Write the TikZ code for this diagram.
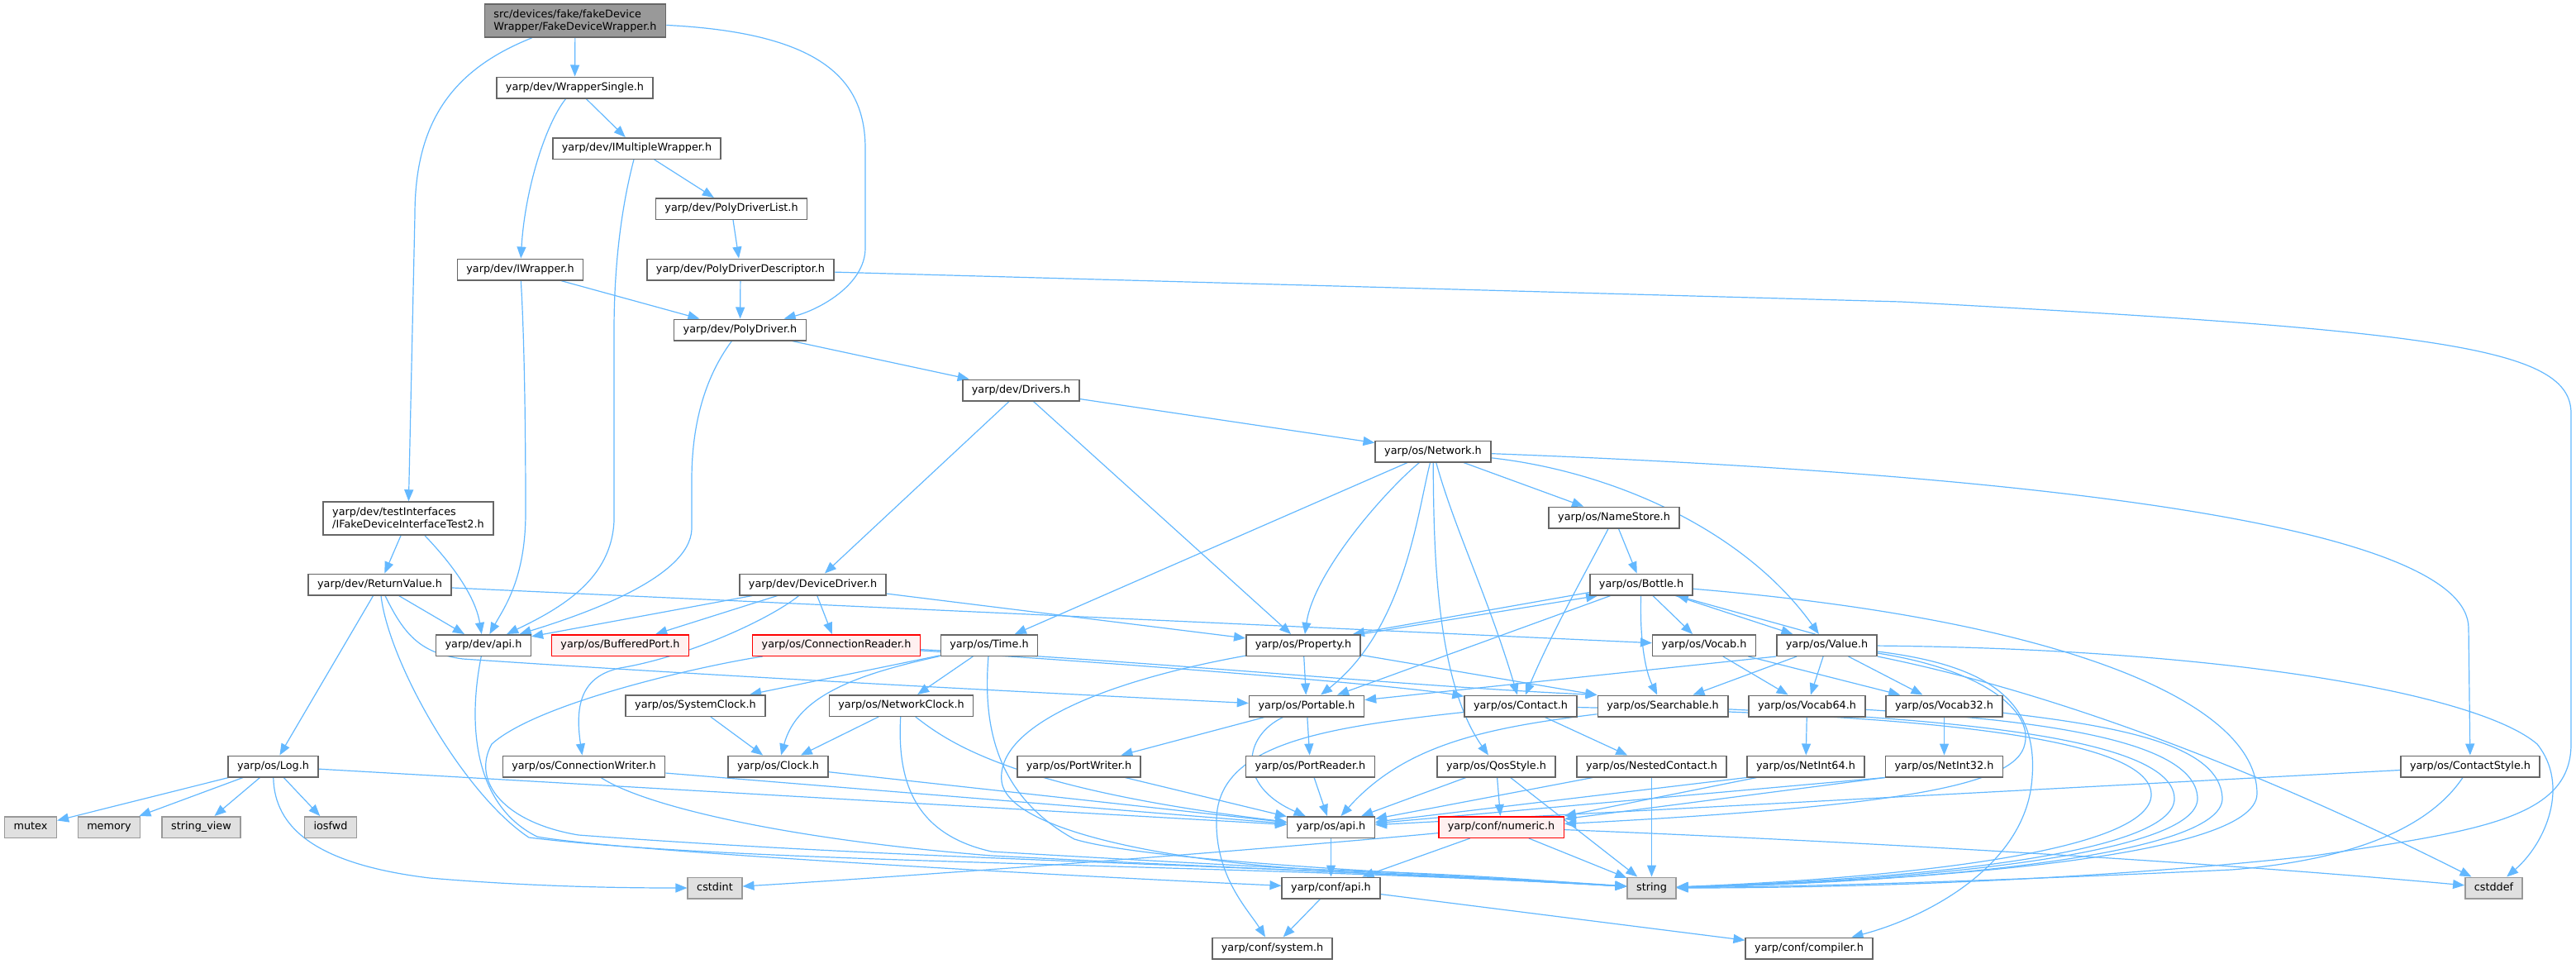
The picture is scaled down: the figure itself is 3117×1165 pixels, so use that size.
\documentclass[tikz,border=0pt]{standalone}
\usepackage{fontspec}
\setmainfont{DejaVu Sans}
\usetikzlibrary{arrows.meta,backgrounds}
\definecolor{edgec}{HTML}{63B8FF}
\definecolor{bord}{HTML}{666666}
\definecolor{extb}{HTML}{999999}
\definecolor{extf}{HTML}{E0E0E0}
\definecolor{redf}{HTML}{FFF0F0}
\definecolor{rootf}{HTML}{999999}
\tikzset{
  box/.style={draw=bord, fill=white, line width=1.5pt, font=\fontsize{12.8}{15}\selectfont, inner xsep=11pt, inner ysep=0pt, minimum height=25.5pt, text height=9.6pt, text depth=2.9pt},
  redbox/.style={box, draw=red, fill=redf},
  extbox/.style={box, draw=extb, fill=extf},
  twobox/.style={box, align=left, text height=, text depth=, minimum height=40pt, inner ysep=4pt},
  rootbox/.style={twobox, fill=rootf},
  e/.style={draw=edgec, line width=1.2pt, -{Triangle[length=14pt,width=11pt]}},
}
\begin{document}
\begin{tikzpicture}[x=1pt,y=-1pt]
\useasboundingbox (0,0) rectangle (3117,1165);
% nodes
\node[rootbox] (fdw) at (696,25) {src/devices/fake/fakeDevice\\Wrapper/FakeDeviceWrapper.h};
\node[box] (ws) at (695.5,106) {yarp/dev/WrapperSingle.h};
\node[box] (imw) at (770.5,179.5) {yarp/dev/IMultipleWrapper.h};
\node[box] (pdl) at (885,252.5) {yarp/dev/PolyDriverList.h};
\node[box] (iw) at (629.5,326) {yarp/dev/IWrapper.h};
\node[box] (pdd) at (896,326) {yarp/dev/PolyDriverDescriptor.h};
\node[box] (pd) at (895.5,399) {yarp/dev/PolyDriver.h};
\node[box] (drv) at (1235.5,472) {yarp/dev/Drivers.h};
\node[box] (net) at (1734,546) {yarp/os/Network.h};
\node[box] (ns) at (1953,626) {yarp/os/NameStore.h};
\node[twobox] (ifd) at (494,627) {yarp/dev/testInterfaces\\/IFakeDeviceInterfaceTest2.h};
\node[box] (rv) at (459.5,707) {yarp/dev/ReturnValue.h};
\node[box] (dd) at (983.5,707) {yarp/dev/DeviceDriver.h};
\node[box] (bot) at (1986,707) {yarp/os/Bottle.h};
\node[box] (devapi) at (585,780.5) {yarp/dev/api.h};
\node[redbox] (bp) at (750.5,780.5) {yarp/os/BufferedPort.h};
\node[redbox] (cr) at (1012,780.5) {yarp/os/ConnectionReader.h};
\node[box] (time) at (1197,780.5) {yarp/os/Time.h};
\node[box] (prop) at (1577,780.5) {yarp/os/Property.h};
\node[box] (vocab) at (2062,780.5) {yarp/os/Vocab.h};
\node[box] (val) at (2210.5,780.5) {yarp/os/Value.h};
\node[box] (sc) at (841.5,853.5) {yarp/os/SystemClock.h};
\node[box] (nc) at (1090.5,853.5) {yarp/os/NetworkClock.h};
\node[box] (port) at (1581,854) {yarp/os/Portable.h};
\node[box] (cont) at (1840,854) {yarp/os/Contact.h};
\node[box] (srch) at (2012,854) {yarp/os/Searchable.h};
\node[box] (v64) at (2186.5,854) {yarp/os/Vocab64.h};
\node[box] (v32) at (2352.5,854) {yarp/os/Vocab32.h};
\node[box] (log) at (330.5,927) {yarp/os/Log.h};
\node[box] (cw) at (706.5,927) {yarp/os/ConnectionWriter.h};
\node[box] (clk) at (941.5,927) {yarp/os/Clock.h};
\node[box] (pw) at (1305.5,927) {yarp/os/PortWriter.h};
\node[box] (pr) at (1585.5,927) {yarp/os/PortReader.h};
\node[box] (qos) at (1810.5,927) {yarp/os/QosStyle.h};
\node[box] (nst) at (1998.5,927) {yarp/os/NestedContact.h};
\node[box] (ni64) at (2185,927) {yarp/os/NetInt64.h};
\node[box] (ni32) at (2352.5,927) {yarp/os/NetInt32.h};
\node[box] (cs) at (2989,927) {yarp/os/ContactStyle.h};
\node[extbox] (mutex) at (37,1000.5) {mutex};
\node[extbox] (memory) at (132,1000.5) {memory};
\node[extbox] (sv) at (243.5,1000.5) {string\_view};
\node[extbox] (iosfwd) at (400,1000.5) {iosfwd};
\node[box] (osapi) at (1610.5,1000.5) {yarp/os/api.h};
\node[redbox] (num) at (1816.5,1000.5) {yarp/conf/numeric.h};
\node[extbox] (cstdint) at (865,1074) {cstdint};
\node[box] (capi) at (1610.5,1074) {yarp/conf/api.h};
\node[extbox] (str) at (1998.5,1074) {string};
\node[extbox] (cstddef) at (3017.5,1074) {cstddef};
\node[box] (sys) at (1539.5,1147) {yarp/conf/system.h};
\node[box] (comp) at (2189,1147) {yarp/conf/compiler.h};
\begin{scope}[on background layer]
% root
\draw[e] (fdw) -- (ws);
\draw[e] (fdw) .. controls (545,85) and (502,150) .. (502,260) -- (ifd);
\draw[e] (fdw) .. controls (1000,40) and (1047,100) .. (1047,180) -- (1047,300) .. controls (1047,345) and (990,375) .. (pd);
% WrapperSingle
\draw[e] (ws) .. controls (660,150) and (635,230) .. (iw);
\draw[e] (ws) -- (imw);
% IMultipleWrapper
\draw[e] (imw) .. controls (752,250) and (743,320) .. (743,400) -- (743,630) .. controls (740,700) and (680,735) .. (devapi);
\draw[e] (imw) -- (pdl);
\draw[e] (pdl) -- (pdd);
% IWrapper
\draw[e] (iw) .. controls (634,400) and (636,500) .. (636,620) .. controls (636,700) and (610,735) .. (devapi);
\draw[e] (iw) -- (pd);
% PolyDriverDescriptor
\draw[e] (pdd) -- (pd);
\draw[e] (pdd) -- (2300,365) .. controls (2950,400) and (3111,420) .. (3111,500) -- (3111,900) .. controls (3111,990) and (3000,1005) .. (2800,1035) .. controls (2500,1068) and (2200,1074) .. (str);
% PolyDriver
\draw[e] (pd) .. controls (850,460) and (837,520) .. (837,580) -- (837,640) .. controls (835,700) and (700,745) .. (devapi);
\draw[e] (pd) -- (drv);
% Drivers
\draw[e] (drv) -- (dd);
\draw[e] (drv) -- (prop);
\draw[e] (drv) -- (net);
% Network
\draw[e] (net) -- (time);
\draw[e] (net) .. controls (1680,590) and (1590,690) .. (prop);
\draw[e] (net) .. controls (1715,620) and (1700,760) .. (port);
\draw[e] (net) .. controls (1735,650) and (1735,820) .. (qos);
\draw[e] (net) .. controls (1760,640) and (1800,720) .. (cont);
\draw[e] (net) -- (ns);
\draw[e] (net) .. controls (2500,575) and (2987,640) .. (2987,760) -- (cs);
\draw[e] (net) .. controls (1950,570) and (2110,640) .. (val);
% NameStore
\draw[e] (ns) .. controls (1920,690) and (1880,760) .. (cont);
\draw[e] (ns) -- (bot);
% Bottle
\draw[e] ([yshift=4pt]bot.south west) -- ([xshift=-10pt]prop.north east);
\draw[e] (prop.north east) -- ([xshift=10pt]bot.south west);
\draw[e] (bot) -- (val);
\draw[e] ([xshift=-14pt]val.north) -- ([xshift=-20pt]bot.south east);
\draw[e] (bot) .. controls (1984,770) and (1990,810) .. (srch);
\draw[e] (bot) -- (port);
\draw[e] (bot) -- (vocab);
\draw[e] (bot) .. controls (2500,750) and (2731,850) .. (2731,960) .. controls (2731,1040) and (2300,1066) .. (str);
% Property
\draw[e] (prop) -- (port);
\draw[e] (prop) -- (srch);
\draw[e] (prop) .. controls (1330,825) and (1205,880) .. (1212,945) .. controls (1220,1010) and (1450,1045) .. (1600,1052) .. controls (1800,1058) and (1900,1068) .. (str);
% Value
\draw[e] (val.south west) -- (port);
\draw[e] (val) -- (srch);
\draw[e] (val) -- (v64);
\draw[e] (val) -- (v32);
\draw[e] (val) .. controls (2700,785) and (3000,840) .. (3070,900) .. controls (3110,950) and (3080,1020) .. (cstddef);
\draw[e] (val.south east) .. controls (2500,840) and (2750,940) .. (cstddef);
\draw[e] (val) .. controls (2400,810) and (2460,860) .. (2450,900) .. controls (2440,950) and (2300,975) .. (num);
\draw[e] (val) .. controls (2410,805) and (2470,850) .. (2458,950) .. controls (2445,1050) and (2330,1110) .. (comp);
% Vocab
\draw[e] (vocab) -- (v64);
\draw[e] (vocab) -- (v32);
% Searchable
\draw[e] (srch) .. controls (1800,880) and (1700,900) .. (osapi);
\draw[e] (srch) .. controls (2300,868) and (2628,885) .. (2631,965) .. controls (2634,1035) and (2300,1064) .. (str);
% Contact
\draw[e] (cont) -- (nst);
\draw[e] (cont) .. controls (1600,880) and (1475,900) .. (1472,990) .. controls (1470,1060) and (1510,1100) .. (sys);
\draw[e] (cont) .. controls (2200,862) and (2600,878) .. (2603,960) .. controls (2606,1030) and (2300,1062) .. (str);
% Vocab64 / Vocab32
\draw[e] (v64) -- (ni64);
\draw[e] (v64) .. controls (2450,870) and (2656,892) .. (2659,965) .. controls (2662,1036) and (2300,1066) .. (str);
\draw[e] (v32) -- (ni32);
\draw[e] (v32) .. controls (2560,878) and (2686,900) .. (2689,965) .. controls (2692,1038) and (2300,1068) .. (str);
% Portable
\draw[e] (port) -- (pw);
\draw[e] (port) -- (pr);
\draw[e] (port) .. controls (1505,890) and (1495,950) .. (osapi);
\draw[e] (pw) -- (osapi);
\draw[e] (pr) -- (osapi);
% QosStyle, NestedContact
\draw[e] (qos) -- (osapi);
\draw[e] (qos) -- (num);
\draw[e] (qos) -- (str);
\draw[e] (nst) -- (osapi);
\draw[e] (nst) -- (str);
% NetInt64 / NetInt32
\draw[e] (ni64.south west) -- (osapi);
\draw[e] ([xshift=12pt]ni64.south west) -- (num.north east);
\draw[e] (ni32.south west) -- (osapi);
\draw[e] (ni32.south west) -- (num);
% ContactStyle
\draw[e] (cs) -- (osapi);
\draw[e] (cs) .. controls (2940,1000) and (2850,1040) .. (2700,1052) .. controls (2400,1066) and (2200,1072) .. (str);
% numeric
\draw[e] (num) -- (capi);
\draw[e] (num) -- (str);
\draw[e] (num) .. controls (2300,1020) and (2700,1045) .. (cstddef);
\draw[e] (num) .. controls (1500,1030) and (1100,1060) .. (cstdint);
% api
\draw[e] (osapi) -- (capi);
\draw[e] (capi) -- (sys);
\draw[e] (capi) -- (comp);
% Time
\draw[e] (time) -- (sc);
\draw[e] (time) .. controls (1040,815) and (965,840) .. (clk);
\draw[e] (time) -- (nc);
\draw[e] (time) .. controls (1190,870) and (1200,960) .. (1300,1015) .. controls (1400,1045) and (1800,1060) .. (str);
% NetworkClock, SystemClock, Clock
\draw[e] (nc) -- (clk);
\draw[e] (nc) .. controls (1085,950) and (1110,1010) .. (1200,1030) .. controls (1450,1045) and (1800,1062) .. (str);
\draw[e] (nc) .. controls (1150,900) and (1230,955) .. (osapi);
\draw[e] (sc) -- (clk);
\draw[e] (clk) -- (osapi);
% ConnectionWriter
\draw[e] (cw) -- (osapi);
\draw[e] (cw) .. controls (780,975) and (950,1015) .. (1200,1035) .. controls (1450,1048) and (1800,1062) .. (str);
% ConnectionReader
\draw[e] (cr) .. controls (1400,805) and (1700,830) .. (cont);
\draw[e] (cr) .. controls (1400,800) and (1700,830) .. (srch.north west);
\draw[e] (cr) .. controls (850,805) and (650,850) .. (595,900) .. controls (570,945) and (610,995) .. (700,1010) .. controls (1100,1040) and (1500,1045) .. (str);
% DeviceDriver
\draw[e] (dd) -- (devapi);
\draw[e] (dd) -- (bp);
\draw[e] (dd) -- (cr);
\draw[e] (dd) -- (prop);
\draw[e] (dd) .. controls (930,750) and (830,795) .. (750,808) .. controls (705,818) and (695,850) .. (cw);
% dev/api
\draw[e] (devapi) .. controls (565,880) and (575,975) .. (650,1012) .. controls (750,1030) and (1300,1060) .. (capi);
% ReturnValue
\draw[e] (rv) -- (devapi);
\draw[e] (rv) -- (log);
\draw[e] (rv) -- (vocab);
\draw[e] (rv) .. controls (490,770) and (510,790) .. (560,797) .. controls (900,820) and (1300,840) .. (port);
\draw[e] (rv) .. controls (470,800) and (560,960) .. (640,1013) .. controls (900,1045) and (1500,1045) .. (str);
% IFakeDeviceInterfaceTest2
\draw[e] (ifd) -- (rv);
\draw[e] (ifd) .. controls (545,680) and (575,720) .. (devapi);
% Log
\draw[e] (log) -- (mutex);
\draw[e] (log) -- (memory);
\draw[e] (log) -- (sv);
\draw[e] (log) -- (iosfwd);
\draw[e] (log) -- (osapi);
\draw[e] (log) .. controls (332,1000) and (380,1045) .. (520,1062) .. controls (650,1073) and (760,1074) .. (cstdint);
\end{scope}
\end{tikzpicture}
\end{document}
